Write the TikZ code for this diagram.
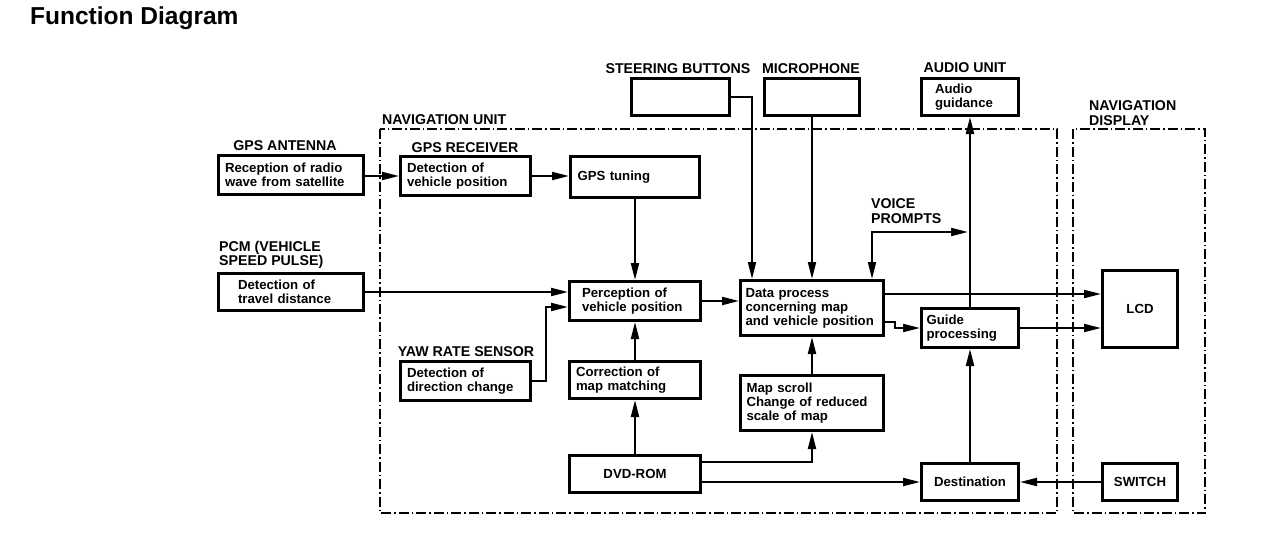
\documentclass[tikz,border=0pt]{standalone}
\usepackage{fontspec}
\setmainfont{Liberation Sans}
\usetikzlibrary{arrows.meta}
\begin{document}
\begin{tikzpicture}[x=1pt,y=-1pt,
  box/.style={draw, line width=3pt, inner sep=0pt, align=left, font=\bfseries\fontsize{13.2}{14}\selectfont},
  lbl/.style={font=\bfseries\fontsize{14.2}{14.5}\selectfont, align=left, inner sep=0pt},
  unit/.style={line width=1.5pt, dash pattern=on 10pt off 3pt on 1.5pt off 3pt},
  conn/.style={line width=2pt},
  arr/.style={conn, -{Triangle[length=17pt,width=8pt]}},
  darr/.style={conn, {Triangle[length=17pt,width=8pt]}-{Triangle[length=17pt,width=8pt]}}]
\useasboundingbox (0,0) rectangle (1264,554);

% title
\node[font=\bfseries\fontsize{24.5}{26}\selectfont, anchor=west, inner sep=0pt] (title) at (30,18) {Function Diagram};

% unit frames
\draw[unit] (380,129) rectangle (1057,513);
\draw[unit] (1073,129) rectangle (1205,513);
\node[lbl, anchor=west] (navunit) at (382,120) {NAVIGATION UNIT};
\node[lbl, anchor=west] (navdisp) at (1089,113) {NAVIGATION\\DISPLAY};

% labels
\node[lbl] (lant) at (285,146) {GPS ANTENNA};
\node[lbl] (lrcv) at (465,148) {GPS RECEIVER};
\node[lbl, anchor=west] (lpcm) at (219,255) {PCM (VEHICLE\\SPEED PULSE)};
\node[lbl] (lyaw) at (466,352) {YAW RATE SENSOR};
\node[lbl] (lsteer) at (678,69) {STEERING BUTTONS};
\node[lbl] (lmic) at (811,69) {MICROPHONE};
\node[lbl] (laudio) at (965,68) {AUDIO UNIT};
\node[lbl, anchor=west] (lvoice) at (871,211) {VOICE\\PROMPTS};

% boxes
\node[box, minimum width=145pt, minimum height=39pt, text width=132pt] (ant) at (291,175) {Reception of radio\\wave from satellite};
\node[box, minimum width=130pt, minimum height=39pt, text width=117pt] (rcv) at (465.5,176) {Detection of\\vehicle position};
\node[box, minimum width=129pt, minimum height=41pt, text width=115pt] (tun) at (635,177) {GPS tuning};
\node[box, minimum width=145pt, minimum height=37pt, text width=106pt] (trav) at (291,292) {Detection of\\travel distance};
\node[box, minimum width=131pt, minimum height=39pt, text width=106pt] (perc) at (635,301) {Perception of\\vehicle position};
\node[box, minimum width=143pt, minimum height=55pt, text width=133pt] (data) at (812,308) {Data process\\concerning map\\and vehicle position};
\node[box, minimum width=97pt, minimum height=39pt, text width=87pt] (guide) at (970,328) {Guide\\processing};
\node[box, minimum width=75pt, minimum height=77pt, align=center] (lcd) at (1140,309) {LCD};
\node[box, minimum width=130pt, minimum height=39pt, text width=117pt] (yaw) at (465.5,381) {Detection of\\direction change};
\node[box, minimum width=131pt, minimum height=37pt, text width=118pt] (corr) at (635,380) {Correction of\\map matching};
\node[box, minimum width=143pt, minimum height=55pt, text width=131pt] (scroll) at (812,403) {Map scroll\\Change of reduced\\scale of map};
\node[box, minimum width=131pt, minimum height=37pt, align=center] (dvd) at (635,474) {DVD-ROM};
\node[box, minimum width=97pt, minimum height=37pt, align=center] (dest) at (970,482) {Destination};
\node[box, minimum width=75pt, minimum height=37pt, align=center] (sw) at (1140,482) {SWITCH};
\node[box, minimum width=98pt, minimum height=37pt] (steer) at (680.5,97) {};
\node[box, minimum width=95pt, minimum height=37pt] (mic) at (812,97) {};
\node[box, minimum width=97pt, minimum height=37pt, text width=70pt] (audio) at (970,97) {Audio\\guidance};

% connectors
\coordinate (yj) at (546,307);
\coordinate (vpe) at (968,232);

\draw[arr] (ant.east |- rcv.west) -- (rcv.west);
\draw[arr] (rcv.east) -- (tun.west |- rcv.east);
\draw[arr] (tun.south) -- (perc.north);
\draw[arr] (trav.east) -- (perc.west |- trav.east);
\draw[arr] (yaw.east) -| (yj) -- (perc.west |- yj);
\draw[arr] (corr.north) -- (perc.south);
\draw[arr] (dvd.north) -- (corr.south);
\draw[arr] (perc.east) -- (data.west |- perc.east);
\draw[arr] (steer.east) -| ([xshift=-60pt]data.north);
\draw[arr] (mic.south) -- (data.north);
\draw[darr] ([xshift=60pt]data.north) |- (vpe);
\draw[arr] (scroll.north) -- (data.south);
\draw[arr] ([yshift=12pt]dvd.east) -| (scroll.south);
\draw[arr] (dvd.east |- dest.west) -- (dest.west);
\draw[arr] (dest.north) -- (guide.south);
\draw[arr] (sw.west) -- (dest.east);
\draw[arr] (guide.north) -- (audio.south);
\draw[arr] ([yshift=14pt]data.east) -- ([yshift=15pt]lcd.west);
\draw[arr] ([yshift=-14pt]data.east) -- ++(10,0) |- (guide.west);
\draw[arr] (guide.east) -- (lcd.west |- guide.east);
\end{tikzpicture}
\end{document}
